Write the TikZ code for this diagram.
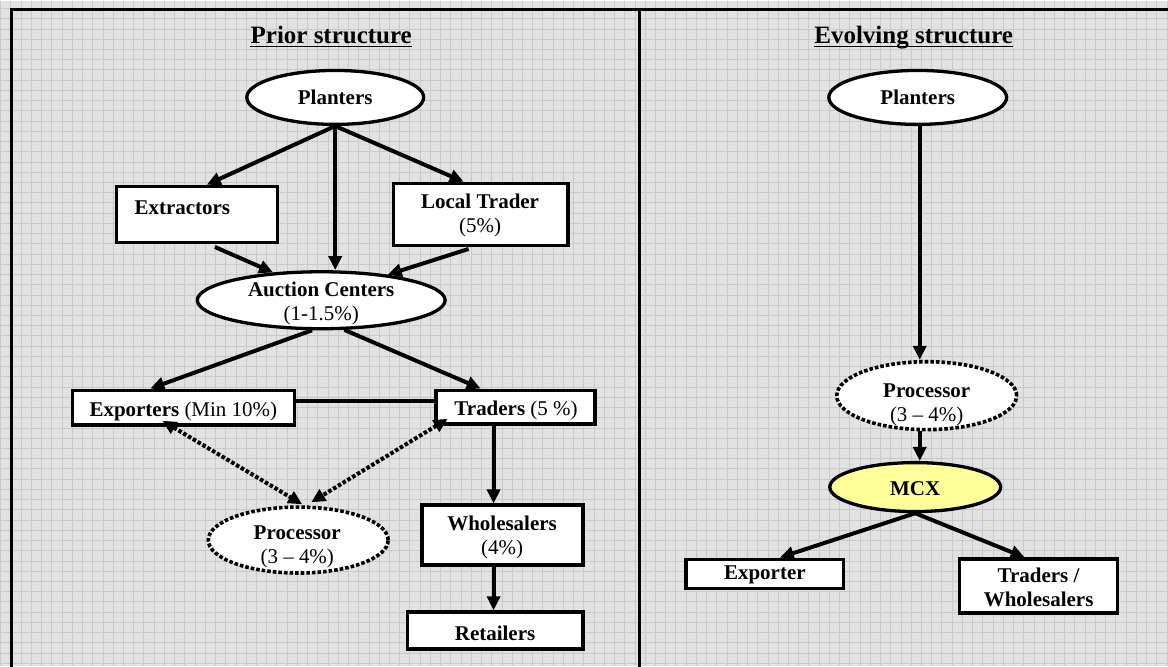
\documentclass[tikz,border=0pt]{standalone}
\usepackage{fontspec}
\setmainfont{Liberation Serif}
\usetikzlibrary{arrows.meta,shapes.geometric,calc}
\definecolor{paper}{HTML}{E2E2E2}
\definecolor{gridline}{HTML}{C9C9C9}
\definecolor{mcxfill}{HTML}{FFFF99}
\begin{document}
\begin{tikzpicture}[x=1pt,y=-1pt,
  box/.style={draw, line width=3.3pt, fill=white, rectangle, inner sep=0pt},
  oval/.style={draw, line width=3.3pt, fill=white, ellipse, inner sep=0pt},
  dotoval/.style={oval, line width=3.6pt, dash pattern=on 3.6pt off 2pt},
  txt/.style={font=\fontsize{21}{24}\selectfont, align=center, inner sep=0pt},
  ttl/.style={font=\fontsize{25}{29}\selectfont\bfseries, inner sep=0pt, anchor=base},
  tip/.style={-{Triangle[length=14pt,width=13pt]}},
  flow/.style={line width=4pt, tip},
  link/.style={line width=4pt},
  dual/.style={line width=4pt, dash pattern=on 3.6pt off 2pt,
    {Triangle[length=14pt,width=13pt]}-{Triangle[length=14pt,width=13pt]}},
]
% squared paper background
\fill[paper] (0,0) rectangle (1168,666);
\foreach \i in {0,...,114}
  \draw[gridline, line width=1pt] ({0.2+10.24*\i},0) -- ++(0,666);
\foreach \j in {0,...,64}
  \draw[gridline, line width=1pt] (0,{8.06+10.24*\j}) -- ++(1168,0);
\useasboundingbox (0,0) rectangle (1168,666);

% frame and divider
\draw[line width=3pt] (11,668) -- (11,9) -- (1170,9);
\draw[line width=3pt] (640,9) -- (640,668);

% titles
\node[ttl] (ttlA) at (331,43) {Prior structure};
\draw[line width=1.7pt] ([yshift=-3pt]ttlA.base west) -- ([yshift=-3pt]ttlA.base east);
\node[ttl] (ttlB) at (914,43) {Evolving structure};
\draw[line width=1.7pt] ([yshift=-3pt]ttlB.base west) -- ([yshift=-3pt]ttlB.base east);

% ---- prior structure ----
\node[oval, minimum width=177pt, minimum height=54pt] (plA) at (335,97) {};
\node[txt] (plAt) at (335,97) {\textbf{Planters}};

\node[box, minimum width=161pt, minimum height=56pt] (ext) at (196.5,214) {};
\node[txt] (extt) at (182,207) {\textbf{Extractors}};

\node[box, minimum width=175pt, minimum height=62pt] (lt) at (480.5,214) {};
\node[txt] (ltt) at (480,215) {\textbf{Local Trader}\\(5\%)};

\node[oval, minimum width=248pt, minimum height=57pt] (auc) at (321,300) {};
\node[txt] (auct) at (321,303) {\textbf{Auction Centers}\\(1-1.5\%)};

\node[box, minimum width=222pt, minimum height=35pt] (exp) at (183,407.5) {};
\node[txt] (expt) at (183,411) {\textbf{Exporters} (Min 10\%)};

\node[box, minimum width=159pt, minimum height=34pt] (tr) at (515.5,407) {};
\node[txt] (trt) at (516,410) {\textbf{Traders} (5 \%)};

\node[dotoval, minimum width=180pt, minimum height=66pt] (procA) at (298,540) {};
\node[txt] (procAt) at (297,547) {\textbf{Processor}\\(3 -- 4\%)};

\node[box, minimum width=161pt, minimum height=60pt] (wh) at (502.5,535) {};
\node[txt] (wht) at (502,537) {\textbf{Wholesalers}\\(4\%)};

\node[box, minimum width=176pt, minimum height=37pt] (ret) at (495,630.5) {};
\node[txt] (rett) at (495,633) {\textbf{Retailers}};

\draw[flow] (plA.south) -- ([xshift=10pt]ext.north);
\draw[flow] (plA.south) -- (plA.south |- auc.north);
\draw[flow] (plA.south) -- ([xshift=-17pt]lt.north);
\draw[flow] ([xshift=18pt,yshift=-3pt]ext.south) -- (auc.150);
\draw[flow] ([xshift=-12pt,yshift=-2pt]lt.south) -- (auc.21);
\draw[flow] (auc.253) -- ([xshift=-33pt]exp.north);
\draw[flow] (auc.308) -- ([xshift=-35pt]tr.north);
\draw[link] ([yshift=7pt]exp.east) -- ([yshift=7pt]exp.east -| tr.west);
\draw[dual] ([xshift=-21pt,yshift=6pt]exp.south) -- ([xshift=4pt,yshift=1pt]procA.north);
\draw[dual] ([xshift=-68pt,yshift=7pt]tr.south) -- ([xshift=13pt,yshift=3pt]procA.north);
\draw[flow] ([xshift=-22pt]tr.south) -- ([xshift=-22pt]tr.south |- wh.north);
\draw[flow] ([xshift=-22pt]tr.south |- wh.south) -- ([xshift=-22pt]tr.south |- ret.north);

% ---- evolving structure ----
\node[oval, minimum width=178pt, minimum height=54pt] (plB) at (918,97) {};
\node[txt] (plBt) at (918,97) {\textbf{Planters}};

\node[dotoval, minimum width=180pt, minimum height=68pt] (procB) at (927,395.5) {};
\node[txt] (procBt) at (927,405) {\textbf{Processor}\\(3 -- 4\%)};

\node[oval, fill=mcxfill, minimum width=171pt, minimum height=49pt] (mcx) at (915.5,487) {};
\node[txt] (mcxt) at (915.5,489) {\textbf{MCX}};

\node[box, minimum width=158pt, minimum height=29pt] (exr) at (765,573.7) {};
\node[txt] (exrt) at (765,575) {\textbf{Exporter}};

\node[box, minimum width=158pt, minimum height=54pt] (tw) at (1039,586) {};
\node[txt] (twt) at (1039,587) {\textbf{Traders /}\\\textbf{Wholesalers}};

\draw[flow] ([xshift=2pt]plB.south) -- ([xshift=2pt]plB.south |- procB.north);
\draw[flow] ([xshift=2pt]plB.south |- procB.south) -- ([xshift=2pt]plB.south |- mcx.north);
\draw[flow] (mcx.south) -- ([xshift=15pt]exr.north);
\draw[flow] (mcx.south) -- ([xshift=-14pt]tw.north);
\end{tikzpicture}
\end{document}
